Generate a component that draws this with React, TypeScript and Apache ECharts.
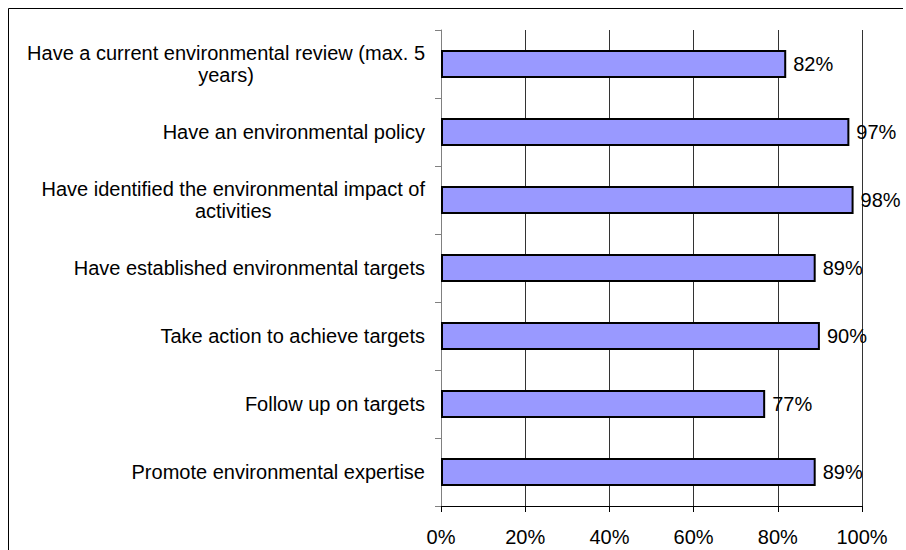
import React, { useEffect, useRef } from "react";
import * as echarts from "echarts";

const categories = [
  "Have a current environmental review (max. 5\nyears)",
  "Have an environmental policy",
  "Have identified the environmental impact of\nactivities",
  "Have established environmental targets",
  "Take action to achieve targets",
  "Follow up on targets",
  "Promote environmental expertise",
];
const values = [82, 97, 98, 89, 90, 77, 89];
const xTicks = [0, 20, 40, 60, 80, 100];

const FONT = "Liberation Sans, Arial, sans-serif";

export default function App() {
  const ref = useRef<HTMLDivElement>(null);
  useEffect(() => {
    if (!ref.current) return;
    const chart = echarts.init(ref.current, null, { renderer: "svg" });
    chart.setOption({
      animation: false,
      backgroundColor: "#ffffff",
      textStyle: { fontFamily: FONT },
      grid: { left: 441, right: 44, top: 30, bottom: 44, containLabel: false },
      graphic: [
        { type: "line", shape: { x1: 8.5, y1: 8.5, x2: 903, y2: 8.5 }, style: { stroke: "#000", lineWidth: 1 } },
        { type: "line", shape: { x1: 8.5, y1: 8.5, x2: 8.5, y2: 550 }, style: { stroke: "#000", lineWidth: 1 } },
      ],
      xAxis: {
        type: "value",
        min: xTicks[0],
        max: xTicks[xTicks.length - 1],
        interval: 20,
        axisLine: { show: true, lineStyle: { color: "#000", width: 1 } },
        axisTick: { show: true, length: 6, lineStyle: { color: "#000" } },
        splitLine: { show: true, lineStyle: { color: "#333", width: 1 } },
        axisLabel: {
          formatter: (v: number) => v + "%",
          fontSize: 20,
          color: "#000",
          fontFamily: FONT,
          margin: 21,
        },
      },
      yAxis: {
        type: "category",
        inverse: true,
        data: categories,
        axisLine: { show: true, lineStyle: { color: "#808080", width: 1 } },
        axisTick: { show: true, length: 6, alignWithLabel: false, lineStyle: { color: "#808080" } },
        axisLabel: {
          fontSize: 20,
          color: "#000",
          fontFamily: FONT,
          margin: 16,
          lineHeight: 22,
          formatter: (v: string) =>
            v.indexOf("\n") >= 0
              ? v.split("\n").map((l) => "{c|" + l + "}").join("\n")
              : v,
          rich: {
            c: { align: "center", fontSize: 20, fontFamily: FONT, color: "#000", lineHeight: 22 },
          },
        },
      },
      series: [
        {
          type: "bar",
          data: values,
          barWidth: 28,
          itemStyle: { color: "#9999FF", borderColor: "#000", borderWidth: 2 },
          label: {
            show: true,
            position: "right",
            distance: 7,
            formatter: (p: any) => p.value + "%",
            fontSize: 20,
            color: "#000",
            fontFamily: FONT,
          },
        },
      ],
    });
    return () => chart.dispose();
  }, []);
  return (
    <div
      ref={ref}
      style={{ position: "fixed", left: 0, top: 0, width: 906, height: 550 }}
    />
  );
}
